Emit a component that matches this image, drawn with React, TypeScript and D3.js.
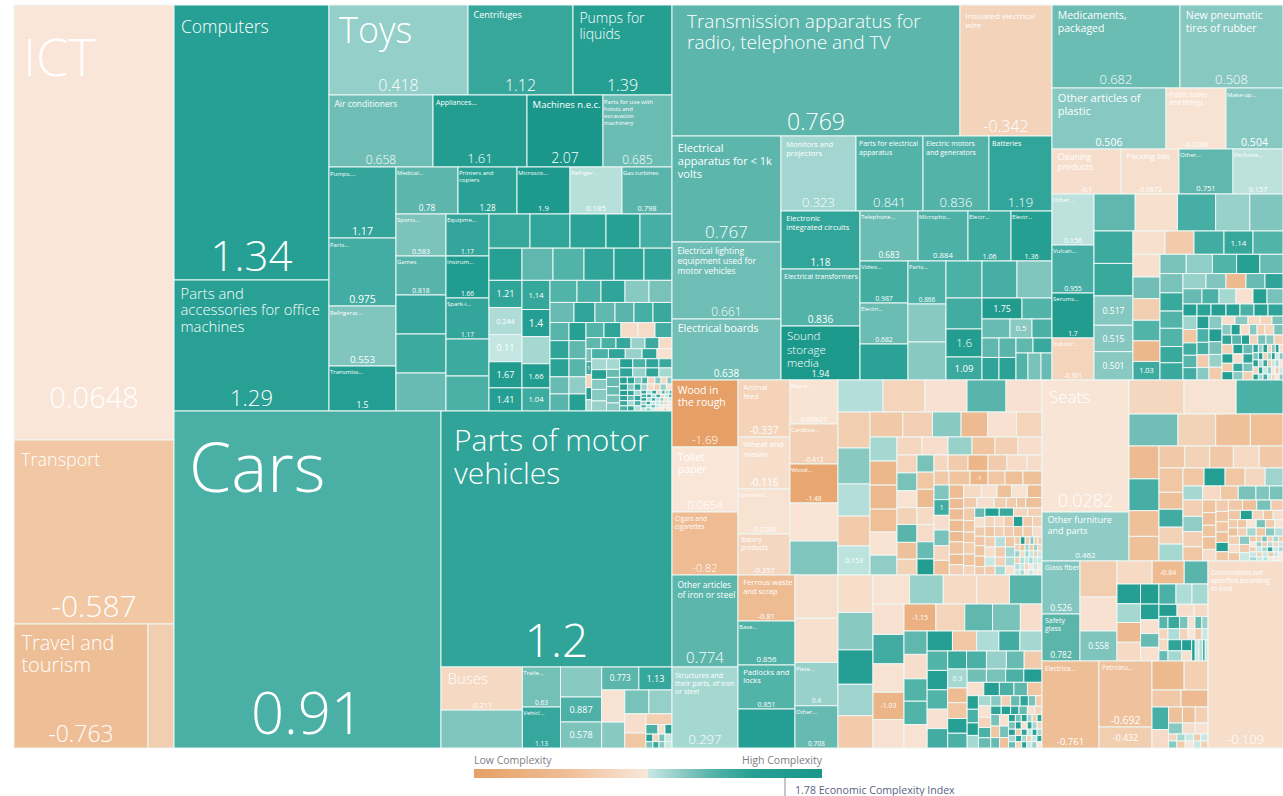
import React from "react";
import * as d3 from "d3";

type Cell = { w: number; ci?: number; name?: string; shown?: boolean; dir?: "h" | "v"; children?: Cell[]; share?: number };

const H = (w: number, ...children: Cell[]): Cell => ({ w, dir: "h", children });
const V = (w: number, ...children: Cell[]): Cell => ({ w, dir: "v", children });
const L = (w: number, ci: number): Cell => ({ w, ci });
const T = (w: number, ci: number): Cell => ({ w, ci, shown: true });
const N = (w: number, name: string, ci: number): Cell => ({ w, name, ci, shown: true });
const pairs = (p: number[]) => { const o: Cell[] = []; for (let i = 0; i < p.length; i += 2) o.push(L(p[i], p[i + 1])); return o; };
const R = (h: number, p: number[]) => H(h, ...pairs(p));
const C = (w: number, p: number[]) => V(w, ...pairs(p));

// ---- services
const services = V(160,
  N(435, "ICT", 0.0648),
  N(184, "Transport", -0.587),
  H(124, N(134, "Travel and\ntourism", -0.763), L(26, -0.45)));

// ---- machinery
const machineryTiny = V(55,
  R(13, [10, 1.2, 9, 0.2, 9, 1.25, 8, -0.3, 7, 0.9, 7, 0.3, 5, 1.1]),
  R(12, [10, 0.9, 8, 1.2, 8, 0.25, 8, 1.1, 7, -0.25, 7, 0.1, 6, 0.9]),
  R(12, [10, 1.3, 8, 0.3, 8, 1.0, 7, 0.2, 7, 0.5, 7, -0.2, 7, 0.09]),
  R(12, [9, 0.4, 8, 1.2, 8, 0.12, 8, 0.08, 7, 0.2, 7, -0.4, 7, 0.06]),
  R(11, [9, 1.1, 8, 0.2, 8, 0.8, 7, 0.1, 7, 0.07, 7, -0.02, 7, 0.06]),
  R(10, [9, 0.2, 8, 0.6, 7, 0.09, 7, -0.05, 7, 0.07, 7, -0.5, 8, 0.06]));
const machineryFine = V(118,
  R(24, [14, 1.3, 13, 1.25, 13, 0.5, 11, 0.9, 13, -0.3, 11, 0.5, 11, -0.2, 9, 0.5]),
  R(22, [14, 1.35, 12, 0.5, 12, 1.2, 11, 0.35, 12, -0.15, 11, -0.4, 11, 0.4, 10, -0.05]),
  H(72,
    C(14, [18, 1.4, 18, 1.2, 18, 1.1, 18, 0.9]),
    C(12, [18, 1.2, 18, 0.7, 18, 0.3, 18, 1.2]),
    C(12, [18, 0.3, 18, 1.2, 18, 0.9, 18, 0.2]),
    machineryTiny));
const machineryD = V(140,
  R(32, [35, 1.3, 35, 0.9, 35, 1.2, 35, 1.1]),
  R(32, [35, 1.2, 35, 0.4, 35, 1.2, 35, 0.3]),
  machineryFine);
const machineryC = V(215,
  R(35, [45, 0.9, 45, 1.2, 45, 0.4, 40, 1.2, 40, -0.05]),
  H(182,
    C(40, [38, 0.3, 34, 1.3, 35, 0.5, 40, 0.5, 35, 0.4]),
    C(35, [37, 0.3, 28, 0.7, 32, 0.7, 30, 0.7, 27, 0.6, 28, 0.5]),
    machineryD));
const machineryMid = H(88,
  C(19, [18, 0.8, 18, 1.2, 18, 1.25, 17, 0.7, 17, 0.8]),
  C(17, [18, 1.3, 18, 0.75, 18, 0.8, 17, 0.45, 17, 1.3]),
  V(86,
    R(15, [18, 0.85, 17, 1.2, 17, -0.15, 17, -0.15, 17, 1.0]),
    R(11, [15, 0.75, 15, 0.9, 15, 1.15, 14, 0.4, 14, 1.05, 13, -0.15]),
    H(62,
      V(15, L(15, 0.6), T(15, 1), L(15, -0.3), L(14, 1.3), L(13, 0.3)),
      machineryC)));
const machineryB = V(122,
  R(22, [27, 0.85, 24, 0.9, 24, 1.2, 24, 0.5, 23, 0.6]),
  R(20, [24, 0.7, 21, 1.2, 20, 0.75, 19, 0.8, 19, 0.95, 19, 1.1]),
  machineryMid);
const machineryA = V(183,
  R(34, [41, 1.12, 40, 1.18, 36, 1.25, 34, 1.3, 32, 0.95]),
  R(32, [33, 1.3, 31, 0.75, 31, 0.85, 30, 1.2, 30, 1.25, 28, 1.2]),
  H(130,
    V(33, T(27, 1.21), T(27, 0.244), T(27, 0.11), T(26, 1.67), T(23, 1.41)),
    V(28, T(29, 1.14), T(27, 1.4), L(27, 0.3), T(24, 1.66), T(23, 1.04)),
    machineryB));
const machineryLower = H(197,
  V(50, N(42, "Sports...", 0.583), N(39, "Games", 0.818), L(39, 1.15), L(39, 1.05), L(38, 0.7)),
  V(43, N(42, "Equipme...", 1.17), N(42, "Instrum...", 1.66), N(41, "Spark-i...", 1.17), L(37, 1.05), L(35, 0.9)),
  machineryA);
const machineryRest = V(343,
  H(90, N(139, "Toys", 0.418), N(105, "Centrifuges", 1.12), N(99, "Pumps for\nliquids", 1.39)),
  H(72, N(104, "Air conditioners", 0.658), N(94, "Appliances...", 1.61), N(76, "Machines n.e.c.", 2.07), N(69, "Parts for use with\nhoists and\nexcavation\nmachinery", 0.685)),
  H(244,
    V(67, N(71, "Pumps,...", 1.17), N(68, "Parts...", 0.975), N(60, "Refrigerat...", 0.553), N(45, "Transmiss...", 1.5)),
    V(276,
      H(47, N(62, "Medical...", 0.78), N(59, "Printers and\ncopiers", 1.28), N(53, "Microsco...", 1.9), N(52, "Refriger...", 0.185), N(50, "Gas turbines", 0.798)),
      machineryLower)));
const machinery = H(406,
  V(155, N(275, "Computers", 1.34), N(131, "Parts and\naccessories for office\nmachines", 1.29)),
  machineryRest);

// ---- vehicles
const vehicleTiny = V(26,
  L(10, -0.4),
  V(22,
    R(9, [12, 0.9, 7, -0.08, 7, 1.3]),
    R(7, [7, 1.3, 6, -0.3, 6, 0.6, 7, 0.1]),
    R(6, [7, 0.6, 6, 1.1, 6, 0.5, 7, 0.1])));
const vehicleSmall = V(70,
  H(23, T(37, 0.773), T(33, 1.13)),
  H(58,
    C(23, [31, -0.02, 25, 0.5]),
    V(47,
      R(23, [24, 0.6, 23, 0.42]),
      H(33,
        C(21, [18, -0.1, 14, -0.6]),
        vehicleTiny))));
const vehicleRow = H(81,
  V(81, N(42, "Buses", -0.211), L(37, 0.55)),
  V(38, N(40, "Traile...", 0.63), N(41, "Vehicl...", 1.13)),
  V(41, L(30, 0.5), T(25, 0.887), T(26, 0.578)),
  vehicleSmall);
const vehicles = H(337,
  N(267, "Cars", 0.91),
  V(231, N(256, "Parts of motor\nvehicles", 1.2), vehicleRow));

// ---- electronics
const electronicsFine = H(42,
  V(34, H(19, L(17, 0.75), L(17, 0.8)), H(22, L(17, 1.2), L(17, 1.25))),
  V(36, H(15, L(17, 0.75), L(19, 1.1)), H(27, L(12, 0.85), L(13, 0.6), L(11, 0.7))));
const electronicsTail = V(106,
  R(37, [36, 0.9, 35, 0.95, 35, 0.55]),
  H(82,
    V(36, L(31, 1.0), T(28, 1.6), T(23, 1.09)),
    V(70,
      H(21, T(40, 1.75), L(30, 0.85)),
      H(19, L(28, 0.7), T(22, 0.5), L(20, 0.9)),
      electronicsFine)));
const electronicsLower = V(192,
  H(50, N(58, "Telephone...", 0.683), N(50, "Micropho...", 0.884), N(43, "Electr...", 1.06), N(41, "Electr...", 1.36)),
  H(119,
    V(48, N(42, "Video...", 0.987), N(41, "Electri...", 0.682), L(36, 1.25)),
    V(38, N(43, "Parts...", 0.866), L(38, 0.5), L(38, 0.5)),
    electronicsTail));
const electronicsRest = V(271,
  H(75, N(75, "Monitors and\nprojectors", 0.323), N(67, "Parts for electrical\napparatus", 0.841), N(66, "Electric motors\nand generators", 0.836), N(63, "Batteries", 1.19)),
  H(169,
    V(79, N(58, "Electronic\nintegrated circuits", 1.18), N(57, "Electrical transformers", 0.836), N(54, "Sound\nstorage\nmedia", 1.94)),
    electronicsLower));
const electronics = V(380,
  H(131, N(288, "Transmission apparatus for\nradio, telephone and TV", 0.769), N(92, "Insulated electrical\nwire", -0.342)),
  H(244,
    V(109, N(106, "Electrical\napparatus for < 1k\nvolts", 0.767), N(77, "Electrical lighting\nequipment used for\nmotor vehicles", 0.661), N(61, "Electrical boards", 0.638)),
    electronicsRest));

// ---- chemicals
const chemicalsTiny = V(30,
  R(7, [7, 1.2, 6, 0.4, 6, 1.3, 5, -0.3, 5, 0.5, 5, 1.3, 5, -0.1]),
  R(6, [7, 0.6, 6, 1.3, 6, -0.4, 5, 0.4, 5, 1.3, 5, 0.09, 5, 0.5]),
  R(6, [7, 1.3, 6, 0.2, 6, 1.1, 5, -0.5, 5, 0.09, 5, 0.3, 5, 0.07]),
  R(6, [7, -0.3, 6, 1.2, 6, 0.09, 5, 0.5, 5, 0.07, 5, -0.5, 5, 0.08]),
  R(5, [7, 1.3, 6, 0.3, 6, 1.0, 5, 0.08, 5, -0.3, 5, 0.07, 5, 0.5]));
const chemicalsFine = V(53,
  R(10, [12, 0.5, 12, 1.3, 12, -0.1, 10, 0.5, 10, -0.4, 12, -0.25, 12, 0.6]),
  R(9, [12, 1.2, 12, 0.8, 10, 1.4, 10, -0.3, 10, 0.6, 10, 0.5, 11, -0.4]),
  H(34,
    C(11, [9, -0.4, 9, 1.3, 8, -0.5, 8, 1.4]),
    C(10, [9, 1.4, 9, -0.1, 8, 1.1, 8, 0.5]),
    C(10, [9, 0.7, 9, 1.2, 8, 0.6, 8, -0.4]),
    chemicalsTiny));
const chemicalsD = H(63,
  C(14, [13, 0.35, 13, -0.6, 12, 1.0, 12, 0.8, 12, 1.0]),
  C(12, [12, 1.4, 13, 0.9, 12, 0.95, 12, -0.5, 12, 0.5]),
  C(13, [12, 0.5, 12, 1.5, 12, 0.6, 12, 0.4, 12, -0.5]),
  V(61,
    R(8, [13, -0.1, 13, 0.5, 12, -0.2, 12, -0.3, 11, 0.6]),
    chemicalsFine));
const chemicalsC = V(123,
  R(19, [26, 0.6, 26, 0.45, 24, 0.85, 23, 1.3, 23, 0.7]),
  H(105,
    C(23, [19, 0.6, 18, 1.1, 17, 0.85, 18, 0.85, 16, 1.1, 17, 1.1]),
    V(100,
      R(15, [23, 0.4, 20, 0.55, 20, -0.9, 19, 0.7, 18, 1.2]),
      R(15, [19, 0.7, 17, 0.9, 17, 0.3, 17, -0.05, 14, 1.3, 16, 0.6]),
      R(12, [14, 1.3, 14, 1.25, 15, 1.35, 14, 1.3, 14, 0.9, 14, 1.3, 15, 1.2]),
      chemicalsD)));
const chemicalsB = V(150,
  H(23, L(32, -0.06), L(29, -0.5), L(30, 1.0), T(29, 1.14), L(30, 0.85)),
  H(124,
    V(27, L(22, -0.06), L(21, 0.65), L(21, -0.45), L(20, 0.85), L(20, -0.95), T(18, 1.03)),
    chemicalsC));
const chemicalsA = V(189,
  R(37, [41, 0.75, 42, -0.06, 38, 0.95, 34, 0.4, 33, 0.55]),
  H(149,
    V(39, L(32, 1.05), L(32, 1.1), T(29, 0.517), T(26, 0.515), T(28, 0.501)),
    chemicalsB));
const chemicals = V(231,
  H(83, N(128, "Medicaments,\npackaged", 0.682), N(103, "New pneumatic\ntires of rubber", 0.508)),
  H(61, N(114, "Other articles of\nplastic", 0.506), N(60, "Plastic tubes\nand fittings", -0.0288), N(57, "Make-up...", 0.504)),
  H(45, N(69, "Cleaning\nproducts", -0.1), N(58, "Packing lids", -0.0872), N(54, "Other...", 0.751), N(50, "Perfume...", 0.157)),
  H(186,
    V(42, N(51, "Other...", 0.156), N(48, "Vulcan...", 0.955), N(45, "Serums...", 1.7), N(42, "Industr...", -0.301)),
    chemicalsA));

// ---- agriculture
const agricultureTiny = V(32,
  R(6, [7, -0.5, 6, 1.4, 6, -0.5, 5, 0.5, 5, -0.4, 5, -0.5]),
  R(5, [6, -0.4, 6, -0.6, 5, 0.3, 5, -0.5, 5, 0.4, 5, -0.3]),
  R(5, [6, 0.4, 6, -0.2, 5, 0.3, 5, 0.1, 5, -0.4, 5, 0.09]),
  R(5, [6, -0.5, 5, 0.25, 5, 0.09, 5, 0.3, 5, 0.08, 5, 0.09]),
  R(5, [6, 0.2, 5, 0.09, 5, -0.3, 5, 0.07, 5, 0.08, 5, 0.07]),
  R(4, [6, 0.09, 5, 0.3, 5, 0.07, 5, 0.09, 5, 0.07, 5, 0.07]));
const agricultureFine = V(63,
  R(8, [14, -0.3, 14, -0.2, 14, -0.5, 14, 1.4, 14, -0.5, 14, -0.4]),
  R(8, [14, -0.6, 14, -0.4, 14, -0.5, 14, -0.6, 14, -0.5, 14, -0.1]),
  H(30,
    C(12, [8, -0.45, 8, -0.1, 7, 0.1, 7, -0.5]),
    C(12, [8, 0.2, 8, -0.5, 7, -0.4, 7, 0.3]),
    C(11, [8, -0.6, 8, 0.3, 7, 0.25, 7, -0.05]),
    agricultureTiny));
const agricultureE = H(64,
  C(11, [12, -0.5, 11, -0.6, 10, -0.6, 11, -0.45, 11, -0.65, 9, -0.3]),
  C(10, [9, 0.7, 9, -0.05, 9, -0.5, 9, -0.6, 10, -0.65, 10, -0.7, 8, -0.5]),
  V(56,
    R(9, [14, 1.5, 14, 1.1, 14, -0.25, 14, -0.4]),
    agricultureFine));
const agricultureD = H(90,
  V(15, L(14, 0.55), T(15, 1), L(14, -0.1), L(15, 0.6), L(14, -0.25), L(14, -0.7)),
  C(14, [13, -0.8, 10, -0.8, 11, -0.8, 11, -0.8, 10, -0.85, 12, -0.65, 10, -0.8, 10, -0.4]),
  V(77,
    R(12, [17, -0.2, 15, -0.05, 14, -0.7, 15, -0.03, 14, -0.8]),
    R(10, [13, -0.5, 17, -0.1, 12, -0.45, 10, -0.5, 9, -0.6, 16, -0.7]),
    agricultureE));
const agricultureC = H(120,
  C(20, [17, -0.3, 17, 0.6, 16, -0.02, 16, -0.35, 17, 0.8, 16, -0.7, 15, -0.35]),
  C(17, [16, 0.6, 16, -0.6, 17, -0.85, 16, -0.2, 16, -0.15, 16, 0.7, 15, 1.6]),
  V(108,
    R(16, [14, -0.25, 20, -0.5, 20, -1, 19, -0.5, 20, -0.15, 15, -0.15]),
    H(14, L(15, -0.55), L(21, -0.65), T(18, -1), L(17, -0.6), L(18, -0.75), L(19, -0.7)),
    agricultureD));
const agricultureB = H(138,
  C(27, [23, 0.3, 23, -0.95, 23, -0.9, 22, -0.75, 22, -0.03, 19, 0.45]),
  V(145,
    R(18, [25, -0.25, 26, -0.1, 24, 0.4, 23, -0.65, 23, -0.4, 24, -0.1]),
    agricultureC));
const agricultureA = V(204,
  H(32, L(45, 0.22), L(42, -0.3), L(42, -0.05), L(39, 0.8), L(36, -0.05)),
  H(163,
    V(32, L(36, -0.45), L(36, 0.5), L(32, 0.22), L(30, -0.5), T(29, 0.153)),
    V(172,
      R(25, [32, -0.55, 29, -0.4, 28, 0.5, 26, -0.85, 28, -0.05, 25, -0.3]),
      agricultureB)));
const agriculture = H(195,
  V(66, N(67, "Wood in\nthe rough", -1.69), N(65, "Toilet\npaper", 0.0654), N(63, "Cigars and\ncigarettes", -0.82)),
  V(52, N(57, "Animal\nfeed", -0.337), N(52, "Wheat and\nmeslin", -0.116), N(45, "Unmilled...", -0.0288), N(41, "Bakery\nproducts", -0.257)),
  V(48, N(44, "Maize...", 0.00827), N(40, "Cardboa...", -0.412), N(39, "Wood...", -1.48), L(38, 0.02), L(34, 0.55)),
  agricultureA);

// ---- metals
const metalsTiny = V(34,
  R(7, [7, 1.3, 6, 0.6, 6, 1.3, 5, 0.3, 5, -0.5, 5, 1.2]),
  R(7, [7, 0.6, 6, 1.3, 6, -0.05, 5, 1.2, 5, 0.3, 5, -0.3]),
  R(6, [7, 1.3, 6, -0.5, 6, 1.2, 5, 0.09, 5, 1.3, 5, 0.3]),
  R(6, [7, 0.3, 6, 1.2, 5, 0.3, 5, -0.4, 5, 0.09, 5, 1.2]),
  R(6, [7, 0.7, 6, -0.3, 5, 1.3, 5, 0.09, 5, 0.4, 5, 0.07]));
const metalsFine = V(50,
  R(10, [10, 0.5, 9, -0.4, 9, 0.7, 8, 1.2, 7, 0.6, 6, -0.5]),
  R(8, [10, 1.2, 9, 1.3, 8, 1.2, 8, 0.7, 7, -0.05, 7, -0.3]),
  H(32,
    C(9, [11, 0.6, 11, -0.6, 10, 0.7]),
    C(9, [11, -0.05, 11, 0.6, 10, -0.7]),
    metalsTiny));
const metalsE = V(73,
  R(13, [18, 0.65, 18, 0.6, 17, 0.9, 17, 1.5]),
  R(13, [16, -0.05, 15, 1.4, 14, 0.9, 13, 0.75, 14, -0.6]),
  H(51,
    C(11, [13, 1.3, 13, 0.9, 12, 1.3, 12, 0.3]),
    C(12, [10, 0.3, 11, -0.03, 10, -0.3, 10, 0.9, 10, 0.7]),
    metalsFine));
const metalsD = V(92,
  R(18, [18, 1.1, 19, 0.9, 19, 0.4, 17, 0.7, 17, -0.5]),
  H(79,
    V(19, T(18, 0.3), L(14, -0.8), L(15, -0.6), L(14, 1.3), L(14, 0.9)),
    metalsE));
const metalsC = V(114,
  R(20, [24, 1.38, 23, -0.6, 21, 0.25, 20, 1.0, 21, 0.3]),
  H(97,
    V(20, L(19, 0.85), L(19, 1.4), L(19, 0.85), L(19, -0.05), L(19, 1.0)),
    metalsD));
const metalsB = V(138,
  H(27, T(31, -1.15), L(28, -0.3), L(27, 0.75), L(27, 0.6), L(21, -0.1)),
  H(117,
    C(23, [23, 0.75, 24, -0.1, 22, 0.85, 23, 0.85, 23, -0.03]),
    metalsC));
const metalsA = V(169,
  R(29, [36, -0.02, 33, 0.4, 33, -0.2, 32, -0.2, 32, 0.8]),
  H(144,
    V(31, L(30, -0.05), L(29, 1.0), L(28, -0.03), T(27, -1.03), L(28, -0.05)),
    metalsB));
const metals = H(173,
  V(66, N(92, "Other articles\nof iron or steel", 0.774), N(81, "Structures and\ntheir parts, of iron\nor steel", 0.297)),
  V(57, N(46, "Ferrous waste\nand scrap", -0.81), N(44, "Base...", 0.856), N(44, "Padlocks and\nlocks", 0.851), L(39, 1.4)),
  V(43, L(43, -0.08), L(44, -0.06), N(43, "Plate...", 0.4), N(42, "Other...", 0.708)),
  H(204,
    C(35, [37, -0.12, 37, 0.5, 34, 1.4, 31, 0.35, 32, -0.5]),
    metalsA));

// ---- furniture, glass and the rest
const textilesTiny = V(30,
  R(7, [6, -0.6, 5, -0.5, 5, 0.6, 5, -0.4, 5, 0.3, 4, -0.5]),
  R(6, [6, 0.06, 5, 0.4, 5, -0.5, 5, 0.2, 5, -0.3, 4, 0.09]),
  R(6, [6, -0.5, 5, 0.09, 5, 0.3, 5, 1.2, 5, 0.08, 4, 0.3]),
  R(6, [6, 0.1, 5, -0.4, 5, 0.08, 5, -0.5, 4, 0.08, 4, 0.07]),
  R(5, [6, 0.3, 5, 0.08, 4, 0.2, 4, 0.07, 4, 0.07, 4, 0.07]));
const textilesFine = V(40,
  R(8, [9, -0.5, 9, -0.6, 9, 0.06, 9, 0.6, 9, -0.5, 8, -0.02]),
  R(8, [9, -0.7, 9, -0.4, 9, 0.3, 9, -0.6, 9, 0.5, 8, 0.2]),
  H(24,
    C(10, [8, -0.4, 8, -0.1, 8, -0.6]),
    C(9, [8, 0.5, 8, -0.5, 8, 0.08]),
    textilesTiny));
const textilesC = H(61,
  C(19, [15, -0.4, 14, 0.45, 14, -0.4, 13, -0.6]),
  C(13, [12, -0.65, 12, -0.7, 11, -0.65, 12, -0.7, 11, -0.1]),
  C(12, [11, -0.5, 10, -0.6, 10, -0.6, 10, -0.75, 9, 1.4, 9, -0.6]),
  V(53,
    R(10, [13, -0.55, 13, -0.7, 13, 0.6, 11, -0.5]),
    R(9, [11, -0.6, 11, 1.3, 10, -0.3, 9, -0.6, 9, -0.1]),
    textilesFine));
const textilesB = V(124,
  R(22, [25, -0.55, 24, -0.35, 23, -0.55, 25, -0.2, 23, -0.55]),
  H(93,
    C(24, [23, -0.6, 16, -0.7, 17, 1.0, 16, -0.35, 16, 0.3]),
    V(100,
      R(18, [20, -0.6, 20, 1.5, 19, -0.6, 19, -0.25, 17, 0.35]),
      R(14, [19, 0.3, 17, -0.2, 17, -0.6, 17, 0.6, 13, 0.55, 13, 0.6]),
      textilesC)));
const textilesA = V(154,
  H(34, L(54, -0.25), L(51, -0.03), L(46, 0.9)),
  H(32, L(48, 0.65), L(37, -0.35), L(34, -0.7), L(32, -0.75)),
  H(115,
    C(30, [32, -0.85, 31, 0.95, 25, -0.7, 24, -0.7]),
    textilesB));
const lowerFine = V(44,
  R(12, [15, 1.1, 11, 0.6, 9, -0.05, 9, 0.7, 8, 0.4]),
  R(11, [15, 0.25, 11, -0.3, 9, 0.05, 9, -0.5, 8, 0.08]),
  H(21,
    C(15, [11, 1.2, 10, 0.3]),
    C(11, [11, 1.4, 10, -0.06]),
    R(18, [4, 1.3, 4, 0.08, 4, 0.2, 3, 1.0, 3, 0.1])));
const lowerTop = V(91,
  H(23, L(34, -0.2), T(31, -0.84), L(23, 0.8)),
  H(77,
    C(23, [19, 1.4, 18, 0.3, 19, -0.9, 18, -0.2]),
    C(18, [19, 1.6, 15, 1.3, 13, -0.05, 13, 0.7, 13, -0.05]),
    V(48,
      R(20, [16, 0.9, 15, 0.25, 15, 0.3]),
      R(12, [17, 1.5, 16, -0.1, 13, -0.2]),
      H(44,
        C(10, [12, 0.8, 10, -0.3, 11, -0.2, 10, 0.7]),
        lowerFine))));
const lowerBottom = V(56,
  H(29, L(31, -0.9), L(23, -0.4)),
  R(17, [28, -0.55, 26, -0.85]),
  H(41,
    C(16, [22, 0.95, 18, -0.15]),
    V(38,
      R(16, [13, -0.7, 12, -0.7, 12, -0.4]),
      R(11, [13, 0.5, 12, -0.1, 12, -0.05]),
      R(7, [8, -0.3, 8, 0.3, 8, 0.08, 7, -0.5, 7, 0.1]),
      R(7, [8, 0.5, 8, -0.5, 8, 0.07, 7, 0.1, 7, -0.4]))));
const textiles = V(241,
  H(181,
    V(87, N(132, "Seats", 0.0282), N(49, "Other furniture\nand parts", 0.462)),
    textilesA),
  H(187,
    V(166,
      H(100,
        V(38, N(53, "Glass fibers", 0.526), N(47, "Safety\nglass", 0.782)),
        V(37, L(36, -0.45), L(34, -0.05), T(30, 0.558)),
        lowerTop),
      H(87,
        N(57, "Electrica...", -0.761),
        V(53, N(66, "Petroleu...", -0.692), T(21, -0.432)),
        lowerBottom)),
    N(75, "Commodities not\nspecified according\nto kind", -0.109)));

const treeRoot = H(1,
  services,
  H(1109,
    V(498, machinery, vehicles),
    V(611,
      H(375, electronics, chemicals),
      H(368, V(370, agriculture, metals), textiles))));

// [label size, value size, value lift, label drop, label inset] for the products that carry a name
const labelSizes: Record<string, number[]> = {
  ICT: [52, 29, 32, 6, 9], Transport: [18, 30], "Travel and\ntourism": [20, 23],
  Computers: [17.5, 42], "Parts and\naccessories for office\nmachines": [14.8, 22, 0, -2],
  Cars: [68, 58, 14], "Parts of motor\nvehicles": [30, 46, 0, -2, 13],
  Toys: [36, 16, 0, -3], Centrifuges: [9, 16], "Pumps for\nliquids": [14, 16],
  "Air conditioners": [8.5, 12], "Appliances...": [7, 13], "Machines n.e.c.": [9.5, 14],
  "Parts for use with\nhoists and\nexcavation\nmachinery": [6, 12],
  "Transmission apparatus for\nradio, telephone and TV": [19, 23, 0, -2, 15],
  "Insulated electrical\nwire": [8, 16],
  "Electrical\napparatus for < 1k\nvolts": [11, 17],
  "Electrical lighting\nequipment used for\nmotor vehicles": [8.5, 12],
  "Electrical boards": [10.5, 10],
  "Monitors and\nprojectors": [7.5, 13], "Parts for electrical\napparatus": [7, 13],
  "Electric motors\nand generators": [7, 13], Batteries: [7, 13],
  "Electronic\nintegrated circuits": [7.5, 10], "Electrical transformers": [7, 10],
  "Sound\nstorage\nmedia": [11.5, 9],
  "Medicaments,\npackaged": [10.5, 13], "New pneumatic\ntires of rubber": [10.5, 13],
  "Other articles of\nplastic": [11, 10.5], "Plastic tubes\nand fittings": [6.5, 7],
  "Make-up...": [6, 10.5], "Cleaning\nproducts": [8.5, 7], "Packing lids": [8, 7],
  "Wood in\nthe rough": [10.5, 11.5], "Toilet\npaper": [10.5, 11.5], "Cigars and\ncigarettes": [6.5, 11],
  "Animal\nfeed": [7.5, 10], "Wheat and\nmeslin": [8, 10], "Bakery\nproducts": [6.5, 7.5],
  "Other articles\nof iron or steel": [8.5, 15], "Structures and\ntheir parts, of iron\nor steel": [7, 13],
  "Ferrous waste\nand scrap": [7.5, 7.5], "Padlocks and\nlocks": [7.5, 7],
  Seats: [17, 18], "Other furniture\nand parts": [9, 8],
  Buses: [15, 7.5], "Glass fibers": [7, 8.5], "Safety\nglass": [7, 8.5],
  "Commodities not\nspecified according\nto kind": [6.5, 13],
  "Electrica...": [6.5, 9.5], "Petroleu...": [6.5, 10.5],
};

const fontFamily = "'Open Sans', 'Noto Sans', sans-serif";
const complexityStops = [-1.7, -0.8, -0.3, 0.0799, 0.08, 0.3, 0.5, 0.77, 0.91, 1.3, 2.1];
const complexityColors = ["#E6A066", "#EEBC93", "#F4D5BC", "#FAE7DA", "#C9E8E4", "#A6D8D2", "#88C9C2", "#5DB6AC", "#4AB0A6", "#27A094", "#1A978A"];
const legendTitleLow = "Low Complexity";
const legendTitleHigh = "High Complexity";
const countryEci = 1.78;
const countryEciLabel = "Economic Complexity Index";

function assignShares(n: Cell, share: number): Cell {
  const total = n.children ? d3.sum(n.children, (c) => c.w) : 0;
  return { ...n, share, children: n.children?.map((c) => assignShares(c, (share * c.w) / total)) };
}

export default function App() {
  const W = 1283, H0 = 796;
  const color = d3.scaleLinear<string>().domain(complexityStops).range(complexityColors).clamp(true);
  const leaves = React.useMemo(() => {
    const h = d3.hierarchy<Cell>(assignShares(treeRoot, 1), (d) => d.children).sum((d) => (d.children ? 0 : d.share || 0));
    const tile = (p: any, x0: number, y0: number, x1: number, y1: number) =>
      (p.data.dir === "h" ? d3.treemapDice : d3.treemapSlice)(p, x0, y0, x1, y1);
    return d3.treemap<Cell>().size([1269, 743]).tile(tile as any)(h).leaves();
  }, []);

  const legendX = d3.scaleLinear().domain([-1.7, 0.08, 1.3, 2.1]).range([0, 50, 80, 100]);

  return (
    <svg width={W} height={H0} style={{ position: "absolute", left: 0, top: 0, display: "block", background: "#fff" }} fontFamily={fontFamily}>
      <defs>
        <linearGradient id="complexity" x1="0" x2="1" y1="0" y2="0">
          {complexityStops.map((s, i) => (
            <stop key={i} offset={`${legendX(s)}%`} stopColor={complexityColors[i]} />
          ))}
        </linearGradient>
      </defs>
      <g transform="translate(14,5)">
        {leaves.map((d, i) => {
          const w = d.x1 - d.x0, h = d.y1 - d.y0;
          const c = d.data;
          const sizes = c.name ? labelSizes[c.name] : undefined;
          const area = Math.sqrt(w * h);
          const text = String(c.ci);
          const lf = sizes ? sizes[0] : 6;
          const vf = sizes
            ? sizes[1]
            : c.name
              ? Math.max(6.5, area * 0.155)
              : Math.max(6, Math.min(14, h * 0.42, (w * 1.1) / text.length));
          const lift = sizes && sizes[2] ? sizes[2] : 1 + vf * 0.2;
          const drop = sizes && sizes[3] ? sizes[3] : 0;
          const pad = sizes && sizes[4] ? sizes[4] : lf < 7.5 ? 1 + (lf > 6.4 ? 2 : 0) : Math.min(15, 4 + lf * 0.17);
          const lines = c.name ? c.name.split("\n") : [];
          const top = lf * 1.05 + Math.min(10, h * 0.04) + drop;
          const leading = lf >= 14 ? 1.11 : 1.18;
          return (
            <g key={i} transform={`translate(${d.x0},${d.y0})`}>
              <rect width={w} height={h} fill={color(c.ci ?? 0)} stroke="#eef8f6" strokeWidth={1} />
              {lines.map((ln, j) => (
                <text key={j} x={pad} y={top + j * lf * leading} fontSize={lf} fontWeight={lf > 11 ? 300 : 400} fill="#fff">{ln}</text>
              ))}
              {c.shown && (
                <text x={w / 2} y={c.name ? h - lift : h / 2 + vf * 0.36} fontSize={vf} fontWeight={vf >= 11 ? 300 : 400} textAnchor="middle" fill="#fff">{text}</text>
              )}
            </g>
          );
        })}
      </g>
      <text x={474} y={764} fontSize={10.5} fill="#7d7d85">{legendTitleLow}</text>
      <text x={822} y={764} fontSize={10.5} fill="#7d7d85" textAnchor="end">{legendTitleHigh}</text>
      <rect x={474} y={769} width={348} height={9} fill="url(#complexity)" />
      <line x1={785} x2={785} y1={778} y2={796} stroke="#8a8a96" strokeWidth={1} />
      <text x={795} y={794} fontSize={10.6} fill="#5a5f85">{`${countryEci} ${countryEciLabel}`}</text>
    </svg>
  );
}
